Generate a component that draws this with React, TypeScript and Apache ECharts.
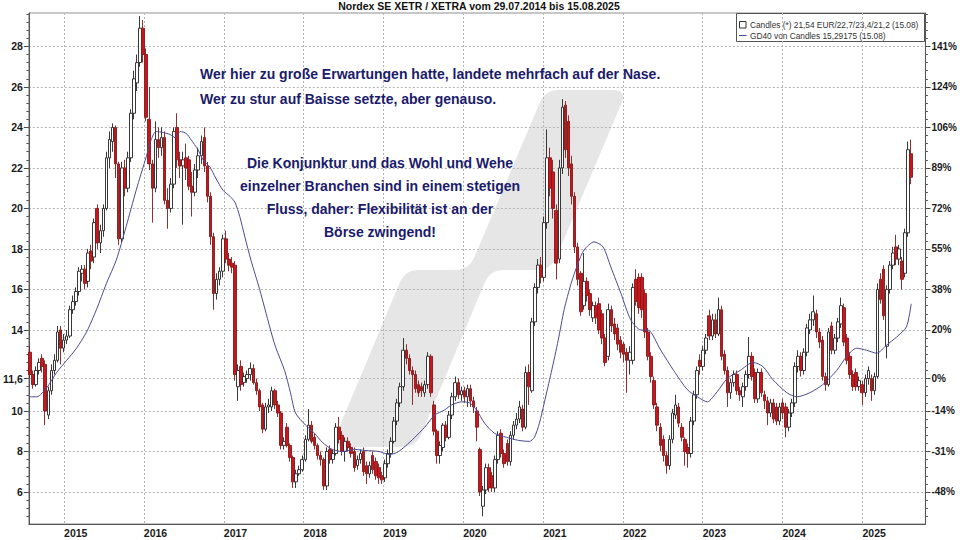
import React, { useEffect, useRef } from 'react';
import * as echarts from 'echarts';

// ---------------- data ----------------
const TITLE = 'Nordex SE XETR / XETRA vom 29.07.2014 bis 15.08.2025';
const START_DATE = '2014-07-29';
const PERIOD_DAYS = 14;

// candles: [open, close, low, high]
const candles2014 = [
  [12.9, 11.8, 11.6, 13.2], [11.8, 11.3, 11.1, 12.0], [11.3, 12.0, 11.2, 12.2], [12.0, 12.4, 11.8, 12.6],
  [12.6, 12.2, 11.9, 12.8], [12.3, 10.0, 9.3, 12.5], [9.8, 11.0, 9.6, 11.2], [11.0, 12.0, 10.8, 12.3],
  [12.0, 12.5, 11.8, 12.8], [12.5, 13.9, 12.4, 14.2], [14.0, 13.1, 12.3, 14.2], [13.1, 13.5, 12.9, 13.8],
];
const candles2015 = [
  [13.5, 13.7, 13.3, 14.0], [13.7, 15.0, 13.6, 15.2], [15.0, 15.4, 14.8, 15.7], [15.4, 15.9, 15.2, 16.1],
  [15.9, 16.9, 15.7, 17.1], [16.8, 17.0, 16.4, 17.2], [17.0, 16.3, 16.0, 17.2], [16.4, 17.8, 16.1, 18.0],
  [17.9, 17.4, 17.0, 18.2], [17.6, 19.3, 17.3, 19.5], [20.0, 18.3, 18.0, 20.2], [18.3, 18.9, 17.8, 19.2],
  [18.9, 20.0, 18.6, 20.2], [20.0, 22.5, 19.9, 22.8], [22.5, 23.4, 22.0, 23.8], [23.3, 24.0, 22.8, 24.2],
  [24.0, 22.2, 21.5, 24.1], [22.2, 18.5, 18.2, 22.3], [18.5, 22.0, 18.3, 22.3], [22.0, 21.0, 20.6, 22.4],
  [21.0, 22.5, 20.8, 22.8], [22.5, 24.7, 22.3, 24.9], [24.7, 26.4, 24.4, 26.8], [26.2, 27.2, 25.8, 27.6],
  [27.2, 28.9, 27.0, 29.5], [28.9, 27.6, 27.2, 29.3],
];
const candles2016 = [
  [27.6, 24.5, 24.3, 27.9], [24.4, 22.2, 21.9, 26.0], [22.2, 21.0, 19.3, 22.4], [21.0, 23.4, 20.8, 24.3],
  [23.4, 23.0, 22.5, 24.0], [23.0, 23.5, 22.6, 24.0], [23.5, 20.4, 20.2, 23.8], [20.4, 20.0, 19.0, 21.0],
  [20.0, 21.2, 19.8, 21.5], [21.2, 23.8, 21.0, 24.0], [24.0, 22.4, 22.0, 24.7], [22.4, 22.1, 21.5, 22.8],
  [22.1, 22.4, 19.2, 22.8], [22.5, 22.0, 21.4, 23.2], [22.4, 21.1, 20.9, 22.6], [21.1, 20.8, 19.6, 21.8],
  [20.8, 21.9, 20.6, 22.2], [21.9, 22.6, 21.5, 23.0], [22.6, 23.3, 22.2, 23.6], [23.5, 22.1, 21.8, 24.0],
  [22.1, 20.6, 20.3, 22.3], [20.6, 18.6, 18.2, 20.8], [18.6, 15.8, 15.0, 18.8], [15.8, 16.5, 15.5, 16.8],
  [16.5, 16.9, 16.2, 17.1], [16.9, 18.5, 16.6, 18.7],
];
const candles2017 = [
  [18.5, 17.5, 17.3, 18.9], [17.5, 17.2, 16.9, 17.8], [17.3, 17.1, 16.8, 17.6], [17.2, 11.8, 11.5, 17.4],
  [11.2, 12.0, 10.5, 12.3], [12.2, 11.3, 11.0, 12.5], [11.4, 11.7, 11.2, 11.9], [11.6, 11.8, 11.4, 12.0],
  [11.8, 12.1, 11.5, 12.4], [12.1, 11.4, 11.3, 12.3], [11.4, 11.0, 10.8, 11.6], [11.0, 10.2, 10.0, 11.1],
  [10.3, 9.1, 8.9, 10.4], [9.1, 10.2, 9.0, 10.4], [10.2, 10.3, 9.9, 10.6], [10.2, 11.0, 10.0, 11.2],
  [11.0, 10.3, 10.1, 11.1], [10.3, 9.9, 9.7, 10.5], [9.9, 8.3, 8.1, 10.0], [8.3, 8.5, 8.1, 8.7],
  [9.2, 8.3, 8.2, 9.4], [8.3, 7.7, 7.5, 8.4], [7.7, 6.5, 6.2, 7.8], [6.5, 6.9, 6.2, 7.1],
  [6.9, 7.1, 6.8, 7.3], [7.1, 7.6, 7.0, 7.8],
];
const candles2018 = [
  [7.6, 8.6, 7.5, 8.8], [8.6, 9.3, 8.5, 10.1], [9.3, 8.5, 8.4, 9.5], [8.7, 8.3, 8.1, 8.9],
  [8.3, 7.8, 7.6, 8.4], [7.8, 7.6, 7.3, 8.0], [7.6, 6.3, 6.1, 7.7], [6.3, 8.0, 6.1, 8.2],
  [8.1, 7.6, 7.4, 8.3], [7.6, 7.9, 7.4, 8.1], [7.9, 9.2, 7.8, 9.4], [9.2, 8.6, 8.4, 9.7],
  [8.8, 8.0, 7.8, 9.0], [8.0, 8.5, 7.5, 8.7], [8.5, 8.2, 8.0, 8.7], [8.2, 7.9, 7.7, 8.4],
  [8.0, 7.2, 7.0, 8.2], [7.3, 7.6, 7.1, 7.8], [7.6, 7.9, 7.4, 8.1], [8.0, 7.0, 6.8, 8.2],
  [7.3, 6.9, 6.4, 7.5], [6.9, 7.3, 6.7, 7.5], [7.8, 7.1, 6.9, 8.0], [7.5, 6.8, 6.6, 7.7],
  [7.2, 6.7, 6.4, 7.4], [6.8, 6.6, 6.4, 7.0],
];
const candles2019 = [
  [6.7, 7.4, 6.5, 7.6], [7.4, 7.9, 7.2, 8.1], [7.9, 8.5, 7.7, 8.7], [8.5, 9.5, 8.4, 9.7],
  [9.5, 10.4, 9.3, 10.6], [10.4, 11.2, 10.2, 11.4], [11.2, 13.0, 11.0, 13.6], [13.0, 12.6, 12.3, 13.3],
  [12.6, 12.0, 11.8, 12.8], [12.0, 11.8, 10.3, 12.2], [11.8, 11.1, 10.9, 12.0], [11.3, 10.9, 10.7, 11.5],
  [11.2, 11.0, 10.7, 11.4], [10.9, 11.3, 10.7, 11.5], [11.3, 12.7, 11.1, 12.9], [12.7, 10.9, 10.7, 12.8],
  [10.3, 9.0, 8.8, 10.5], [9.0, 7.8, 7.4, 9.1], [7.8, 8.3, 7.4, 8.5], [8.2, 9.3, 8.0, 9.4],
  [9.3, 8.7, 8.5, 9.5], [8.7, 9.8, 8.6, 10.0], [9.8, 10.7, 9.6, 10.9], [10.7, 11.4, 10.5, 11.7],
  [11.4, 10.8, 10.6, 11.6], [10.8, 11.0, 10.5, 11.2],
];
const candles2020 = [
  [11.0, 10.7, 10.4, 11.2], [10.7, 11.1, 10.2, 11.3], [11.1, 10.5, 10.2, 11.3], [10.5, 10.2, 9.9, 10.7],
  [10.0, 9.2, 8.5, 10.2], [8.1, 6.0, 5.8, 8.2], [5.3, 6.1, 4.8, 6.3], [6.1, 7.2, 5.9, 7.4],
  [7.2, 6.2, 6.0, 7.4], [6.8, 6.2, 6.0, 7.0], [6.2, 7.6, 6.0, 7.8], [7.6, 8.8, 7.4, 9.0],
  [8.9, 7.9, 7.7, 9.1], [7.9, 7.4, 7.2, 8.1], [8.4, 7.5, 7.3, 8.6], [7.5, 8.8, 7.3, 9.0],
  [8.8, 9.3, 8.6, 9.5], [9.3, 9.6, 9.1, 9.9], [9.6, 10.2, 9.4, 10.5], [10.1, 9.2, 9.0, 10.3],
  [9.2, 11.9, 9.1, 12.2], [11.9, 11.2, 10.3, 12.3], [11.0, 14.4, 10.9, 14.6], [14.4, 16.1, 14.2, 16.3],
  [16.1, 17.2, 15.8, 17.5], [17.2, 16.6, 16.3, 17.6],
];
const candles2021 = [
  [16.6, 19.3, 16.4, 19.6], [19.3, 22.5, 19.0, 23.9], [22.5, 21.0, 20.6, 23.0], [21.8, 20.0, 19.5, 22.4],
  [19.9, 17.3, 16.5, 20.2], [17.5, 22.0, 17.3, 22.4], [22.0, 25.0, 21.7, 25.4], [25.1, 22.9, 22.5, 25.3],
  [24.3, 22.0, 21.6, 24.6], [22.2, 20.6, 20.2, 22.6], [20.6, 18.1, 17.8, 20.8], [18.1, 16.5, 16.2, 18.3],
  [16.8, 14.9, 14.7, 16.9], [15.2, 16.4, 15.0, 17.8], [16.4, 15.7, 15.4, 16.6], [15.8, 15.0, 14.7, 16.0],
  [14.6, 15.2, 14.4, 15.4], [15.2, 14.6, 14.3, 15.4], [15.3, 14.0, 13.8, 15.6], [14.8, 13.6, 13.3, 15.0],
  [13.6, 12.4, 12.2, 13.8], [12.7, 15.0, 12.5, 15.3], [15.0, 14.2, 13.9, 15.2], [14.3, 13.8, 13.5, 14.6],
  [14.1, 13.3, 13.0, 14.3], [13.5, 12.9, 12.6, 13.7],
];
const candles2022 = [
  [13.3, 12.8, 12.4, 13.4], [12.9, 12.5, 10.9, 13.1], [12.5, 12.9, 11.8, 13.2], [12.5, 16.1, 12.3, 16.3],
  [16.5, 15.4, 15.2, 17.0], [16.6, 15.1, 14.8, 16.8], [16.6, 15.0, 14.6, 16.8], [15.8, 13.9, 13.6, 16.0],
  [13.9, 12.7, 12.5, 14.1], [12.7, 11.7, 11.4, 12.9], [11.5, 10.3, 10.1, 11.7], [10.2, 9.3, 9.0, 10.4],
  [9.2, 8.3, 8.0, 9.4], [8.6, 7.8, 7.5, 8.8], [7.8, 7.3, 6.9, 8.0], [7.3, 8.6, 7.1, 8.8],
  [8.6, 9.9, 8.4, 10.1], [9.8, 10.3, 9.6, 10.8], [10.2, 9.4, 9.2, 10.4], [9.2, 8.7, 8.5, 9.4],
  [8.6, 8.0, 7.3, 8.7], [8.2, 7.9, 7.2, 8.4], [7.9, 9.5, 7.7, 9.7], [9.5, 10.8, 9.3, 11.0],
  [10.8, 12.0, 10.6, 12.2], [12.5, 12.2, 11.8, 12.8],
];
const candles2023 = [
  [12.2, 13.0, 12.0, 13.2], [13.0, 13.6, 12.8, 13.8], [14.7, 13.7, 13.5, 15.0], [13.7, 14.5, 13.5, 14.8],
  [14.5, 13.8, 13.6, 14.8], [13.8, 15.0, 13.7, 15.6], [15.0, 12.7, 12.5, 15.2], [12.8, 12.0, 11.8, 13.0],
  [12.0, 10.9, 10.2, 12.2], [10.9, 11.4, 10.6, 11.6], [11.4, 11.8, 11.2, 12.0], [11.8, 11.0, 10.8, 12.0],
  [11.0, 10.8, 10.5, 11.2], [10.7, 11.2, 10.2, 11.4], [11.2, 11.8, 11.0, 12.0], [11.8, 12.7, 11.6, 13.65],
  [12.7, 11.7, 11.5, 12.9], [11.9, 10.6, 10.4, 12.1], [10.6, 11.9, 10.4, 12.1], [11.9, 10.9, 10.7, 12.1],
  [10.8, 10.5, 10.1, 11.0], [10.5, 9.9, 9.3, 10.7], [9.9, 10.4, 9.7, 10.6], [10.4, 9.6, 9.4, 10.6],
  [10.2, 9.5, 9.3, 10.4], [9.5, 10.2, 9.3, 10.4],
];
const candles2024 = [
  [10.4, 9.9, 9.6, 10.6], [10.2, 9.2, 8.7, 10.4], [9.2, 9.9, 9.0, 10.1], [9.9, 10.4, 9.7, 10.6],
  [10.4, 12.2, 10.2, 12.4], [12.2, 12.7, 11.9, 13.0], [12.7, 12.0, 11.7, 12.9], [12.0, 12.9, 11.8, 13.1],
  [12.9, 14.1, 12.7, 14.3], [14.0, 14.5, 13.8, 14.8], [14.5, 14.9, 14.2, 15.7], [14.8, 13.9, 13.6, 15.0],
  [13.9, 13.4, 13.1, 14.1], [13.5, 11.7, 11.5, 13.7], [11.7, 11.3, 11.0, 11.9], [11.3, 13.9, 11.2, 14.1],
  [14.2, 13.0, 12.8, 14.4], [13.0, 13.6, 12.8, 13.8], [13.6, 14.4, 13.4, 14.6], [14.3, 15.2, 14.1, 15.6],
  [15.1, 13.4, 13.2, 15.3], [13.6, 12.5, 12.3, 13.8], [12.7, 11.8, 11.6, 12.9], [11.8, 11.2, 11.0, 12.0],
  [11.9, 11.2, 11.0, 12.1], [11.2, 11.5, 11.0, 11.7], [11.3, 10.9, 10.3, 11.5],
];
const candles2025 = [
  [10.9, 11.6, 10.7, 11.8], [11.6, 12.0, 11.3, 12.2], [11.6, 11.0, 10.5, 11.8], [11.0, 11.7, 10.8, 11.9],
  [11.7, 16.0, 11.6, 16.3], [16.5, 15.5, 15.3, 16.8], [17.0, 14.7, 14.5, 17.2], [13.2, 16.0, 12.6, 16.2],
  [16.0, 17.2, 15.8, 17.4], [17.2, 17.8, 17.0, 18.1], [18.1, 17.5, 17.2, 18.7], [17.5, 18.0, 17.2, 18.2],
  [17.4, 16.5, 16.0, 17.6], [16.8, 18.8, 16.6, 19.0], [18.8, 22.9, 18.6, 23.3], [22.7, 21.54, 21.2, 23.4],
];

// GD40 (40-period moving average)
const maDates = [
  '2014-07-29', '2014-08-29', '2014-10-14', '2014-11-28',
  '2015-01-13', '2015-02-27', '2015-04-14', '2015-05-29', '2015-07-14', '2015-08-28', '2015-10-12', '2015-11-27',
  '2016-01-12', '2016-02-04', '2016-02-26', '2016-03-30', '2016-04-30', '2016-05-23', '2016-06-16', '2016-07-13',
  '2016-08-04', '2016-09-05', '2016-09-28', '2016-10-29', '2016-11-25', '2016-12-28',
  '2017-01-29', '2017-02-21', '2017-03-15', '2017-04-07', '2017-05-05', '2017-06-14', '2017-07-30', '2017-08-26',
  '2017-10-06', '2017-11-02', '2017-11-25',
  '2018-01-10', '2018-02-20', '2018-03-28', '2018-05-12', '2018-06-27', '2018-08-25', '2018-10-09', '2018-12-12',
  '2019-01-27', '2019-03-04', '2019-04-10', '2019-05-25', '2019-07-09', '2019-08-24', '2019-10-08', '2019-11-09', '2019-12-25',
  '2020-01-30', '2020-03-02', '2020-04-08', '2020-05-23', '2020-07-17', '2020-09-10', '2020-10-30', '2020-11-22', '2020-12-15',
  '2021-01-06', '2021-02-07', '2021-03-11', '2021-04-07', '2021-05-09', '2021-06-10', '2021-07-07', '2021-08-22',
  '2021-10-02', '2021-11-07', '2021-12-23',
  '2022-02-06', '2022-03-24', '2022-04-25', '2022-06-23', '2022-08-21', '2022-10-23', '2022-12-08',
  '2023-01-22', '2023-03-08', '2023-04-23', '2023-06-21', '2023-08-19', '2023-10-03', '2023-11-18',
  '2024-01-21', '2024-03-07', '2024-05-05', '2024-07-03', '2024-09-05', '2024-10-21', '2024-12-05',
  '2025-01-20', '2025-03-07', '2025-04-21', '2025-06-06', '2025-07-21', '2025-08-12',
];
const maValues = [
  10.7, 10.7, 11.15, 11.9,
  12.5, 13.1, 13.9, 15.0, 16.3, 17.45, 19.1, 20.9,
  22.55, 23.4, 23.8, 23.75, 23.65, 23.5, 23.8, 23.7, 23.4, 22.9, 22.4, 22.05, 21.5, 20.9,
  20.6, 20.3, 19.6, 18.6, 17.45, 16.0, 14.15, 13.15, 12.0, 10.9, 9.9,
  9.3, 8.9, 8.45, 8.1, 8.0, 8.1, 8.05, 8.0,
  7.85, 7.95, 8.25, 8.7, 9.2, 9.8, 10.05, 10.3, 10.45,
  10.4, 10.05, 9.4, 8.9, 8.7, 8.55, 8.5, 8.7, 9.4,
  10.4, 11.9, 13.5, 15.0, 16.3, 17.3, 17.95, 18.35, 18.1, 17.1, 15.8,
  14.5, 14.0, 14.0, 13.0, 12.0, 11.05, 10.7,
  10.45, 10.95, 11.6, 12.0, 12.4, 12.2, 11.55,
  10.9, 10.7, 10.9, 11.3, 12.0, 12.7, 13.1,
  13.0, 12.85, 13.25, 13.65, 14.15, 15.29,
];

const leftTickValues = [6, 8, 10, 11.6, 14, 16, 18, 20, 22, 24, 26, 28];
const leftTickLabels = ['6', '8', '10', '11,6', '14', '16', '18', '20', '22', '24', '26', '28'];
const rightTickLabels = ['-48%', '-31%', '-14%', '0%', '20%', '38%', '55%', '72%', '89%', '106%', '124%', '141%'];
const yearTicks = [2015, 2016, 2017, 2018, 2019, 2020, 2021, 2022, 2023, 2024, 2025];

const legendLine1 = 'Candles (*) 21,54 EUR/22,7/23,4/21,2 (15.08)';
const legendLine2 = 'GD40 von Candles 15,29175 (15.08)';

const noteLines1 = [
  'Wer hier zu große Erwartungen hatte, landete mehrfach auf der Nase.',
  'Wer zu stur auf Baisse setzte, aber genauso.',
];
const noteLines2 = [
  'Die Konjunktur und das Wohl und Wehe',
  'einzelner Branchen sind in einem stetigen',
  'Fluss, daher: Flexibilität ist an der',
  'Börse zwingend!',
];

// ---------------- helpers ----------------
const DAY = 86400000;
const ts = (s: string) => {
  const [y, m, d] = s.split('-').map(Number);
  return Date.UTC(y, m - 1, d);
};
const FONT = '"Liberation Sans", Arial, Helvetica, sans-serif';

function roundedPath(pts: number[][], r: number) {
  let d = '';
  const n = pts.length;
  for (let i = 0; i < n; i++) {
    const p = pts[i];
    const a = pts[(i - 1 + n) % n];
    const b = pts[(i + 1) % n];
    const da = Math.hypot(p[0] - a[0], p[1] - a[1]);
    const db = Math.hypot(b[0] - p[0], b[1] - p[1]);
    const ra = Math.min(r, da / 2);
    const rb = Math.min(r, db / 2);
    const s = [p[0] + ((a[0] - p[0]) * ra) / da, p[1] + ((a[1] - p[1]) * ra) / da];
    const e = [p[0] + ((b[0] - p[0]) * rb) / db, p[1] + ((b[1] - p[1]) * rb) / db];
    d += (i === 0 ? 'M' : 'L') + s[0].toFixed(1) + ' ' + s[1].toFixed(1) +
      ' Q' + p[0] + ' ' + p[1] + ' ' + e[0].toFixed(1) + ' ' + e[1].toFixed(1) + ' ';
  }
  return d + 'Z';
}

const WATERMARK_PTS = [
  [545, 90], [627, 90], [551, 270], [490, 270], [416, 447], [331, 447], [405, 270], [469, 270],
];
let registered = false;
function registerWatermark() {
  if (registered) return;
  registered = true;
  echarts.graphic.registerShape('wmlogo', echarts.graphic.extendPath(roundedPath(WATERMARK_PTS, 14), {}) as any);
}

function buildOption() {
  const all = [
    ...candles2014, ...candles2015, ...candles2016, ...candles2017, ...candles2018, ...candles2019,
    ...candles2020, ...candles2021, ...candles2022, ...candles2023, ...candles2024, ...candles2025,
  ];
  const t0 = ts(START_DATE);
  const candleData = all.map((c, i) => [t0 + i * PERIOD_DAYS * DAY, c[0], c[1], c[2], c[3]]);
  const maData = maDates.map((d, i) => [ts(d), maValues[i]]);
  const yearTs = yearTicks.map((y) => Date.UTC(y, 0, 1));
  const minorTicks: number[] = [];
  for (let k = 0; k <= 62; k++) minorTicks.push(+(4.8 + 0.4 * k).toFixed(2));

  const Y_MIN = 4.42;
  const Y_MAX = 29.65;
  const labelFor = (v: number, labels: string[]) => {
    const idx = leftTickValues.findIndex((t) => Math.abs(t - v) < 1e-6);
    return idx >= 0 ? labels[idx] : '';
  };

  const gridLine = { show: true, lineStyle: { color: '#b5b5b5', width: 1, type: [2, 2] as any } };

  return {
    animation: false,
    backgroundColor: '#ffffff',
    textStyle: { fontFamily: FONT },
    grid: {
      left: 25, right: 33, top: 13, bottom: 16,
      show: true, borderColor: '#8f8f8f', borderWidth: 1, backgroundColor: 'transparent',
    },
    xAxis: {
      type: 'value',
      min: ts('2014-07-24'),
      max: ts('2025-10-16'),
      axisLine: { show: true, onZero: false, lineStyle: { color: '#555' } },
      axisTick: { show: false, customValues: yearTs },
      axisLabel: {
        customValues: yearTs,
        formatter: (v: number) => String(new Date(v).getUTCFullYear()),
        align: 'left',
        margin: 3,
        fontSize: 10.5,
        fontWeight: 'bold',
        color: '#1a1a1a',
        fontFamily: FONT,
      },
      splitLine: gridLine,
    },
    yAxis: [
      {
        type: 'value', position: 'left', min: Y_MIN, max: Y_MAX,
        axisLine: { show: true, lineStyle: { color: '#555' } },
        axisTick: { show: true, length: 5, customValues: leftTickValues, lineStyle: { color: '#444' } },
        axisLabel: {
          customValues: leftTickValues,
          formatter: (v: number) => labelFor(v, leftTickLabels),
          margin: 6, fontSize: 10.5, fontWeight: 'bold', color: '#1a1a1a', fontFamily: FONT,
        },
        splitLine: gridLine,
      },
      {
        type: 'value', position: 'right', min: Y_MIN, max: Y_MAX,
        axisLine: { show: true, lineStyle: { color: '#555' } },
        axisTick: { show: true, length: 5, customValues: leftTickValues, lineStyle: { color: '#444' } },
        axisLabel: {
          customValues: leftTickValues,
          formatter: (v: number) => labelFor(v, rightTickLabels),
          margin: 6, fontSize: 10, fontWeight: 'bold', color: '#1a1a1a', fontFamily: FONT,
        },
        splitLine: { show: false },
      },
      {
        type: 'value', position: 'left', min: Y_MIN, max: Y_MAX,
        axisLine: { show: false },
        axisTick: { show: true, length: 2.5, customValues: minorTicks, lineStyle: { color: '#555' } },
        axisLabel: { show: false },
        splitLine: { show: false },
      },
      {
        type: 'value', position: 'right', min: Y_MIN, max: Y_MAX,
        axisLine: { show: false },
        axisTick: { show: true, length: 2.5, customValues: minorTicks, lineStyle: { color: '#555' } },
        axisLabel: { show: false },
        splitLine: { show: false },
      },
    ],
    series: [
      {
        type: 'candlestick',
        name: 'Candles',
        data: candleData,
        barWidth: 3.1,
        clip: true,
        itemStyle: {
          color: '#ffffff',
          color0: '#c8161e',
          borderColor: '#222222',
          borderColor0: '#841818',
          borderWidth: 0.9,
        },
      },
      {
        type: 'line',
        name: 'GD40',
        data: maData,
        showSymbol: false,
        smooth: 0.25,
        lineStyle: { color: '#4b4b95', width: 1 },
        z: 3,
      },
    ],
    graphic: [
      {
        type: 'wmlogo', x: 0, y: 0, silent: true, z: -10,
        style: { fill: '#e6e6e6' },
      },
      {
        type: 'text', x: 479, y: 6, z: 100,
        style: {
          text: TITLE, fill: '#111', font: 'bold 10.5px ' + FONT,
          textAlign: 'center', textVerticalAlign: 'middle',
        },
      },
      ...noteLines1.map((t, i) => ({
        type: 'text', x: 200, y: 73.5 + i * 25.5, z: 100,
        style: { text: t, fill: '#1b1b6b', font: 'bold 14px ' + FONT, textAlign: 'left', textVerticalAlign: 'middle' },
      })),
      ...noteLines2.map((t, i) => ({
        type: 'text', x: 380, y: 162.5 + i * 23.3, z: 100,
        style: { text: t, fill: '#1b1b6b', font: 'bold 14px ' + FONT, textAlign: 'center', textVerticalAlign: 'middle' },
      })),
      {
        type: 'group', z: 100,
        children: [
          { type: 'rect', shape: { x: 736.5, y: 13.5, width: 188, height: 28 }, style: { fill: '#fff', stroke: '#555', lineWidth: 1 } },
          { type: 'rect', shape: { x: 739.5, y: 21.5, width: 6.5, height: 6.5 }, style: { fill: '#fff', stroke: '#333', lineWidth: 1 } },
          { type: 'text', x: 750, y: 25, style: { text: legendLine1, fill: '#333', font: '8.3px ' + FONT, textVerticalAlign: 'middle' } },
          { type: 'line', shape: { x1: 739, y1: 35.5, x2: 746.5, y2: 35.5 }, style: { stroke: '#4b4b95', lineWidth: 1 } },
          { type: 'text', x: 750, y: 35.5, style: { text: legendLine2, fill: '#333', font: '8.3px ' + FONT, textVerticalAlign: 'middle' } },
        ],
      },
    ],
  };
}

export default function App() {
  const ref = useRef<HTMLDivElement>(null);
  useEffect(() => {
    if (!ref.current) return;
    registerWatermark();
    const chart = echarts.init(ref.current, null, { renderer: 'svg' });
    chart.setOption(buildOption() as any);
    return () => chart.dispose();
  }, []);
  return (
    <div
      ref={ref}
      style={{ position: 'fixed', left: 0, top: 0, width: 960, height: 540, background: '#fff' }}
    />
  );
}
